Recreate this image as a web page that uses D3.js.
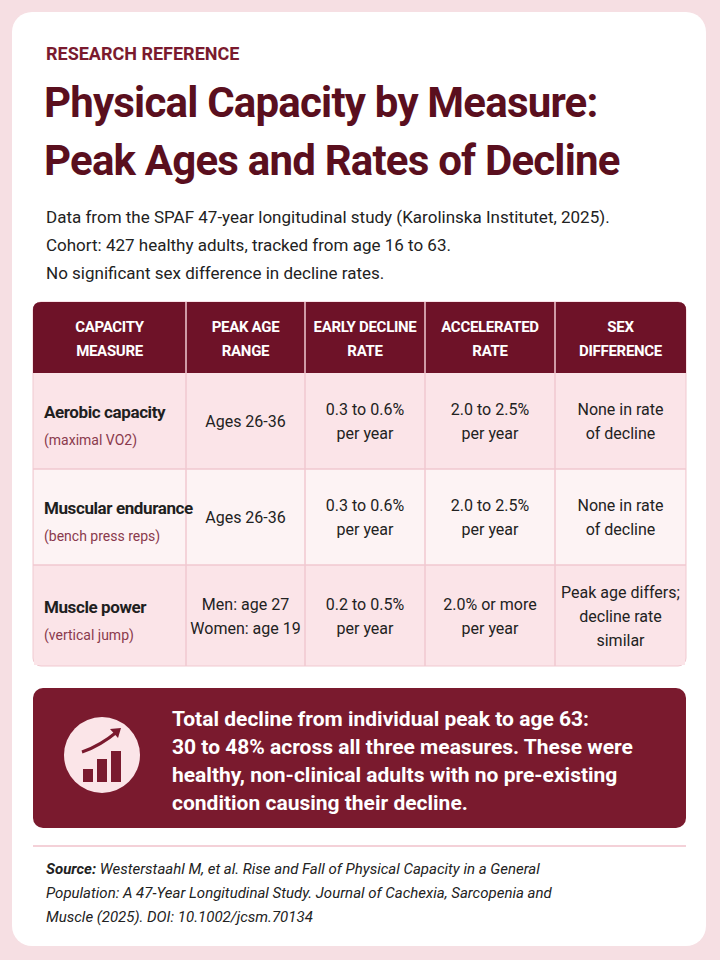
<!DOCTYPE html>
<html><head><meta charset="utf-8">
<script src="https://cdn.jsdelivr.net/npm/d3@7"></script>
<style>body{margin:0;background:#f6dfe3;}svg{display:block;font-family:Roboto,"Noto Sans",sans-serif;}</style>
</head><body><div id="chart"></div>
<script>
// table content
const headers = [["CAPACITY", "MEASURE"], ["PEAK AGE", "RANGE"], ["EARLY DECLINE", "RATE"], ["ACCELERATED", "RATE"], ["SEX", "DIFFERENCE"]];
const measures = ["Aerobic capacity", "Muscular endurance", "Muscle power"];
const measureNotes = ["(maximal VO2)", "(bench press reps)", "(vertical jump)"];
const peakAges = [["Ages 26-36"], ["Ages 26-36"], ["Men: age 27", "Women: age 19"]];
const earlyRates = [["0.3 to 0.6%", "per year"], ["0.3 to 0.6%", "per year"], ["0.2 to 0.5%", "per year"]];
const accelRates = [["2.0 to 2.5%", "per year"], ["2.0 to 2.5%", "per year"], ["2.0% or more", "per year"]];
const sexDiffs = [["None in rate", "of decline"], ["None in rate", "of decline"], ["Peak age differs;", "decline rate", "similar"]];
const subtitle = ["Data from the SPAF 47-year longitudinal study (Karolinska Institutet, 2025).",
  "Cohort: 427 healthy adults, tracked from age 16 to 63.",
  "No significant sex difference in decline rates."];
const callout = ["Total decline from individual peak to age 63:", "30 to 48% across all three measures. These were",
  "healthy, non-clinical adults with no pre-existing", "condition causing their decline."];
const source = ["Westerstaahl M, et al. Rise and Fall of Physical Capacity in a General",
  "Population: A 47-Year Longitudinal Study. Journal of Cachexia, Sarcopenia and",
  "Muscle (2025). DOI: 10.1002/jcsm.70134"];

const W = 720, H = 960;
const maroon = "#6e1228", dark = "#5a0f1e";
const svg = d3.select("#chart").append("svg").attr("width", W).attr("height", H);

svg.append("rect").attr("width", W).attr("height", H).attr("fill", "#f6dfe3");
svg.append("rect").attr("x", 12).attr("y", 12).attr("width", 694).attr("height", 934)
  .attr("rx", 20).attr("fill", "#fff");

svg.append("text").attr("x", 46).attr("y", 60).attr("font-size", 18).attr("font-weight", 700)
  .attr("fill", "#7a1a2e").text("RESEARCH REFERENCE");
["Physical Capacity by Measure:", "Peak Ages and Rates of Decline"].forEach((t, i) =>
  svg.append("text").attr("x", 44).attr("y", 117 + i * 58).attr("font-size", 42).attr("font-weight", 700)
    .attr("letter-spacing", -0.8).attr("fill", dark).text(t));
subtitle.forEach((t, i) =>
  svg.append("text").attr("x", 46).attr("y", 223 + i * 28).attr("font-size", 17).attr("fill", "#222").text(t));

// table geometry
const colEdges = [33, 186, 305, 425, 555, 686];
const tTop = 302, headH = 71, rowH = [96, 96, 101];
const rowY = d3.scaleOrdinal().domain(d3.range(3)).range([tTop + headH, tTop + headH + rowH[0], tTop + headH + rowH[0] + rowH[1]]);
const tbl = svg.append("g");
const tBottom = tTop + headH + d3.sum(rowH);

tbl.append("rect").attr("x", 33).attr("y", tTop).attr("width", 653).attr("height", tBottom - tTop)
  .attr("rx", 8).attr("fill", "#fbe4e8").attr("stroke", "#f0c9d0");
tbl.append("path").attr("fill", maroon)
  .attr("d", `M33,${tTop + headH}V${tTop + 8}Q33,${tTop} 41,${tTop}H678Q686,${tTop} 686,${tTop + 8}V${tTop + headH}Z`);
tbl.selectAll("rect.row").data(d3.range(3)).join("rect").attr("class", "row")
  .attr("x", 34).attr("y", i => rowY(i)).attr("width", 651).attr("height", i => rowH[i] - (i == 2 ? 1 : 0))
  .attr("fill", i => i == 1 ? "#fdf3f4" : "#fbe4e8");
tbl.selectAll("line.h").data([1, 2]).join("line")
  .attr("x1", 33).attr("x2", 686).attr("y1", i => rowY(i)).attr("y2", i => rowY(i)).attr("stroke", "#f0c9d0").attr("stroke-width", 1.5);
tbl.selectAll("line.v").data(colEdges.slice(1, 5)).join("line")
  .attr("x1", d => d).attr("x2", d => d).attr("y1", tTop).attr("y2", tBottom)
  .attr("stroke", "#f0c9d0").attr("stroke-width", 1.5);

const cx = i => (colEdges[i] + colEdges[i + 1]) / 2;
headers.forEach((h, c) => h.forEach((t, k) =>
  tbl.append("text").attr("x", cx(c)).attr("y", tTop + 30 + k * 24).attr("text-anchor", "middle")
    .attr("font-size", 15).attr("font-weight", 700).attr("fill", "#fff").attr("letter-spacing", -0.3).text(t)));

function centered(lines, c, r) {
  const mid = rowY(r) + rowH[r] / 2, lh = 24;
  lines.forEach((t, k) => tbl.append("text").attr("x", cx(c))
    .attr("y", mid + (k - (lines.length - 1) / 2) * lh + 6).attr("text-anchor", "middle")
    .attr("font-size", 16).attr("fill", "#222").text(t));
}
measures.forEach((m, r) => {
  const mid = rowY(r) + rowH[r] / 2;
  tbl.append("text").attr("x", 44).attr("y", mid - 3).attr("font-size", 17).attr("font-weight", 700)
    .attr("fill", "#1f1f1f").attr("letter-spacing", -0.4).text(m);
  tbl.append("text").attr("x", 44).attr("y", mid + 24).attr("font-size", 14).attr("fill", "#8a3a4d").text(measureNotes[r]);
  centered(peakAges[r], 1, r);
  centered(earlyRates[r], 2, r);
  centered(accelRates[r], 3, r);
  centered(sexDiffs[r], 4, r);
});

// callout box
const cb = svg.append("g");
cb.append("rect").attr("x", 33).attr("y", 688).attr("width", 653).attr("height", 140).attr("rx", 10).attr("fill", "#7a1a2e");
cb.append("circle").attr("cx", 102).attr("cy", 755).attr("r", 38).attr("fill", "#fbe5e8");
const barH = [13, 23, 31];
cb.selectAll("rect.ib").data(barH).join("rect").attr("x", (d, i) => 83 + i * 14).attr("y", d => 782 - d)
  .attr("width", 10).attr("height", d => d).attr("fill", "#7a1a2e");
cb.append("path").attr("d", "M82,752 Q100,746 118,731").attr("fill", "none").attr("stroke", "#7a1a2e").attr("stroke-width", 3);
cb.append("path").attr("d", "M110,729 L121,728 L118,738 Z").attr("fill", "#7a1a2e");
callout.forEach((t, i) => cb.append("text").attr("x", 172).attr("y", 726 + i * 28).attr("font-size", 21)
  .attr("font-weight", 700).attr("fill", "#fff").text(t));

svg.append("line").attr("x1", 33).attr("x2", 686).attr("y1", 846).attr("y2", 846).attr("stroke", "#f0c2cb").attr("stroke-width", 1.5);
source.forEach((t, i) => {
  const tx = svg.append("text").attr("x", 46).attr("y", 874 + i * 24).attr("font-size", 15)
    .attr("font-style", "italic").attr("fill", "#222");
  if (i == 0) tx.append("tspan").attr("font-weight", 700).text("Source: ");
  tx.append("tspan").text(t);
});
</script></body></html>
